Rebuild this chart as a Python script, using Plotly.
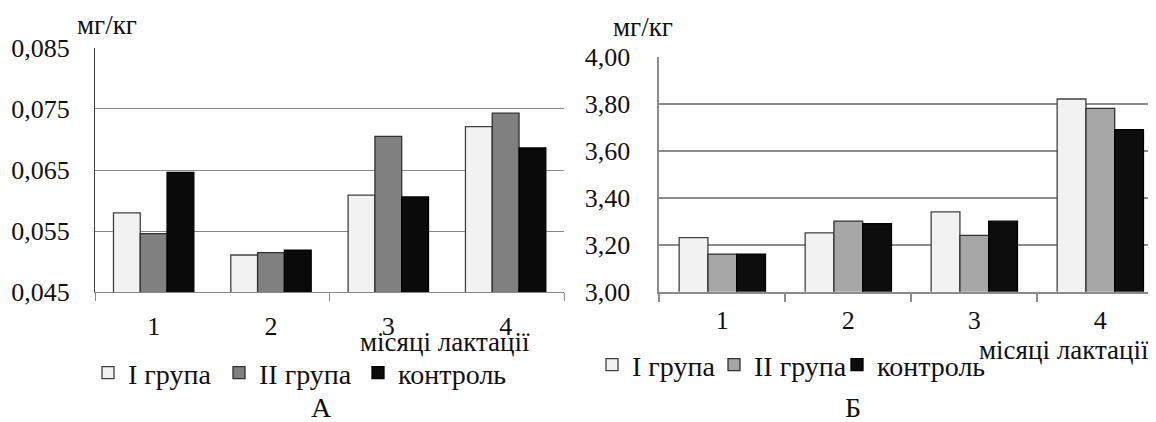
import plotly.graph_objects as go

# ---- data ----
months = ["1", "2", "3", "4"]
group_names = ["I група", "II група", "контроль"]

a_group1 = [0.0580, 0.0511, 0.0609, 0.0721]
a_group2 = [0.0546, 0.0515, 0.0705, 0.0743]
a_control = [0.0646, 0.0519, 0.0606, 0.0686]

b_group1 = [3.23, 3.25, 3.34, 3.82]
b_group2 = [3.16, 3.30, 3.24, 3.78]
b_control = [3.16, 3.29, 3.30, 3.69]

a_yticks = [0.045, 0.055, 0.065, 0.075, 0.085]
b_yticks = [3.00, 3.20, 3.40, 3.60, 3.80, 4.00]

unit_label = "мг/кг"
x_label = "місяці лактації"
panel_a = "А"
panel_b = "Б"

# ---- styling ----
W, H = 1156, 422
OFF = 8  # page body margin
FONT = "Liberation Serif"
FS_TICK = 26
FS_LEG = 28
FS_LBL = 27
TXT = "#111111"
a_colors = ["#f2f2f2", "#808080", "#0a0a0a"]
b_colors = ["#f2f2f2", "#a6a6a6", "#0d0d0d"]
line_cols = ["#404040", "#303030", "#000000"]
a_legw = [86, 94, 115]
b_legw = [77, 78, 115]


def fx(p):
    return (p - OFF) / W


def fy(p):
    return 1 - (p - OFF) / H


fig = go.Figure()

for name, vals, col, lc, lw in zip(group_names, [a_group1, a_group2, a_control], a_colors, line_cols, a_legw):
    fig.add_trace(go.Bar(x=months, y=vals, name=name, marker=dict(color=col, line=dict(color=lc, width=1.3)),
                         xaxis="x", yaxis="y", legend="legend", legendwidth=lw))

for name, vals, col, lc, lw in zip(group_names, [b_group1, b_group2, b_control], b_colors, line_cols, b_legw):
    fig.add_trace(go.Bar(x=months, y=vals, name=name, marker=dict(color=col, line=dict(color=lc, width=1.3)),
                         xaxis="x2", yaxis="y2", legend="legend2", legendwidth=lw))

# invisible trace to carry the tick-only overlay axis of panel A
fig.add_trace(go.Scatter(x=[None], y=[None], xaxis="x3", yaxis="y", showlegend=False, hoverinfo="skip"))

tickfont = dict(family=FONT, size=FS_TICK, color=TXT)
B_LEFT = 659.3
B_CAT = 126.0


def ann(text, x, y, size):
    return dict(text=text, x=fx(x), y=fy(y), xref="paper", yref="paper", showarrow=False,
                xanchor="center", yanchor="middle", font=dict(family=FONT, size=size, color=TXT))


fig.update_layout(
    template="none",
    width=W, height=H,
    margin=dict(l=0, r=0, t=0, b=0, pad=0),
    paper_bgcolor="white", plot_bgcolor="rgba(0,0,0,0)",
    separators=", ",
    hovermode=False,
    barmode="group", bargap=0.315, bargroupgap=0,
    font=dict(family=FONT, size=FS_TICK, color=TXT),
    xaxis=dict(domain=[fx(95), fx(564.3)], anchor="y", type="category", range=[-0.5, 3.5],
               showline=True, linecolor="#8a8a8a", linewidth=1.2, ticks="", showgrid=False,
               tickfont=tickfont, ticklabelstandoff=10, automargin=False),
    xaxis3=dict(overlaying="x", anchor="y", range=[-0.5, 3.5], tickvals=[-0.5, 1.5, 3.5],
                ticks="outside", ticklen=8, tickcolor="#8a8a8a", tickwidth=1.2,
                showticklabels=False, showgrid=False, showline=False, zeroline=False, automargin=False),
    yaxis=dict(domain=[fy(292.3), fy(47.7)], anchor="x", range=[0.045, 0.0850001], tickvals=a_yticks,
               tickformat=".3f", showgrid=True, gridcolor="#8a8a8a", gridwidth=1.1,
               showline=True, linecolor="#404040", linewidth=1.3, ticks="", zeroline=False,
               tickfont=tickfont, ticklabelstandoff=19, automargin=False),
    xaxis2=dict(domain=[fx(B_LEFT), fx(W)], anchor="y2", type="category",
                range=[-0.5, -0.5 + (W - B_LEFT) / B_CAT],
                showline=True, linecolor="#8c8c8c", linewidth=1.8, ticks="outside", ticklen=8,
                tickcolor="#8c8c8c", tickwidth=1.5, tickson="boundaries", showgrid=False,
                tickfont=tickfont, ticklabelstandoff=4, automargin=False),
    yaxis2=dict(domain=[fy(291.7), fy(56.7)], anchor="x2", range=[3.0, 4.0001], tickvals=b_yticks,
                tickformat=".2f", showgrid=True, gridcolor="#8c8c8c", gridwidth=1.8,
                showline=True, linecolor="#8c8c8c", linewidth=1.8, ticks="", zeroline=False,
                tickfont=tickfont, ticklabelstandoff=22, automargin=False),
    legend=dict(orientation="h", x=fx(88), y=fy(373), xanchor="left", yanchor="middle",
                font=dict(family=FONT, size=FS_LEG, color=TXT), bgcolor="rgba(0,0,0,0)",
                traceorder="normal", itemclick=False, itemdoubleclick=False),
    legend2=dict(orientation="h", x=fx(592), y=fy(365), xanchor="left", yanchor="middle",
                 font=dict(family=FONT, size=FS_LEG, color=TXT), bgcolor="rgba(0,0,0,0)",
                 traceorder="normal", itemclick=False, itemdoubleclick=False),
    annotations=[
        ann(unit_label, 107, 25, FS_LBL),
        ann(unit_label, 642.5, 26.7, FS_LBL),
        ann(x_label, 445, 342, FS_LBL),
        ann(x_label, 1063.5, 350, FS_LBL),
        ann(panel_a, 321.7, 407, 28),
        ann(panel_b, 853.3, 407, 28),
    ],
)

fig.write_html("out.html")
